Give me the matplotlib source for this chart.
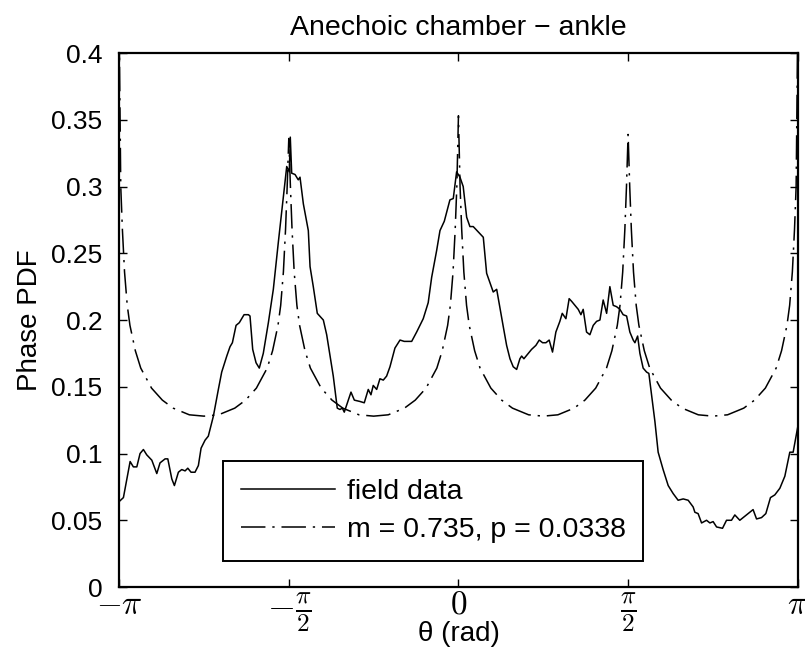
import numpy as np
import matplotlib
matplotlib.use("Agg")
import matplotlib.pyplot as plt

# measured field data (theta in rad, pdf value)
field_theta = [-3.1416, -3.102, -3.040, -3.010, -2.978, -2.948, -2.917, -2.886, -2.839, -2.793,
               -2.763, -2.716, -2.691, -2.654, -2.630, -2.593, -2.562, -2.531, -2.506, -2.476,
               -2.439, -2.408, -2.383, -2.346, -2.316, -2.269, -2.223, -2.192, -2.145, -2.115,
               -2.093, -2.059, -2.029, -1.985, -1.945, -1.930, -1.905, -1.874, -1.844, -1.807,
               -1.760, -1.714, -1.668, -1.621, -1.590, -1.566, -1.557, -1.544, -1.513, -1.483,
               -1.467, -1.436, -1.390, -1.374, -1.344, -1.307, -1.251, -1.220, -1.189, -1.159,
               -1.122, -1.097, -1.075, -1.057, -0.995, -0.964, -0.912, -0.872, -0.835, -0.810,
               -0.789, -0.757, -0.727, -0.696, -0.665, -0.634, -0.588, -0.541, -0.502, -0.433,
               -0.387, -0.326, -0.280, -0.248, -0.202, -0.171, -0.131, -0.079, -0.048, -0.017,
               0.014, 0.044, 0.076, 0.106, 0.137, 0.183, 0.230, 0.261, 0.292, 0.322,
               0.354, 0.384, 0.415, 0.446, 0.477, 0.507, 0.539, 0.569, 0.585, 0.606,
               0.646, 0.677, 0.717, 0.748, 0.779, 0.810, 0.840, 0.871, 0.902, 0.939,
               0.961, 0.995, 1.025, 1.048, 1.078, 1.109, 1.134, 1.155, 1.186, 1.217,
               1.248, 1.279, 1.310, 1.340, 1.372, 1.402, 1.433, 1.464, 1.495, 1.525,
               1.557, 1.587, 1.618, 1.634, 1.659, 1.680, 1.710, 1.742, 1.763, 1.788,
               1.819, 1.849, 1.895, 1.942, 1.988, 2.034, 2.081, 2.127, 2.173, 2.189,
               2.219, 2.251, 2.297, 2.328, 2.358, 2.390, 2.445, 2.482, 2.528, 2.559,
               2.605, 2.667, 2.728, 2.760, 2.806, 2.846, 2.889, 2.929, 2.976, 3.022,
               3.068, 3.099, 3.130, 3.1416]
field_pdf = [0.064, 0.067, 0.094, 0.090, 0.090, 0.100, 0.103, 0.099, 0.095, 0.085,
             0.093, 0.096, 0.096, 0.081, 0.076, 0.086, 0.088, 0.087, 0.089, 0.086,
             0.086, 0.091, 0.104, 0.110, 0.113, 0.128, 0.148, 0.161, 0.173, 0.180,
             0.183, 0.196, 0.198, 0.204, 0.204, 0.203, 0.178, 0.168, 0.164, 0.175,
             0.198, 0.223, 0.258, 0.292, 0.315, 0.311, 0.337, 0.310, 0.309, 0.305,
             0.307, 0.287, 0.267, 0.240, 0.225, 0.205, 0.200, 0.189, 0.173, 0.158,
             0.134, 0.133, 0.134, 0.131, 0.146, 0.140, 0.139, 0.138, 0.148, 0.144,
             0.151, 0.148, 0.156, 0.155, 0.158, 0.165, 0.179, 0.185, 0.184, 0.184,
             0.191, 0.201, 0.213, 0.232, 0.252, 0.267, 0.274, 0.290, 0.291, 0.311,
             0.307, 0.300, 0.277, 0.270, 0.270, 0.266, 0.262, 0.235, 0.228, 0.221,
             0.223, 0.209, 0.195, 0.181, 0.171, 0.165, 0.163, 0.171, 0.173, 0.171,
             0.175, 0.178, 0.181, 0.185, 0.183, 0.183, 0.185, 0.176, 0.191, 0.199,
             0.205, 0.201, 0.216, 0.214, 0.211, 0.208, 0.204, 0.208, 0.191, 0.189,
             0.196, 0.199, 0.200, 0.215, 0.205, 0.225, 0.211, 0.210, 0.208, 0.204,
             0.203, 0.191, 0.185, 0.183, 0.188, 0.175, 0.164, 0.161, 0.160, 0.144,
             0.124, 0.101, 0.088, 0.076, 0.070, 0.065, 0.066, 0.065, 0.060, 0.056,
             0.055, 0.048, 0.050, 0.048, 0.049, 0.045, 0.044, 0.050, 0.050, 0.054,
             0.050, 0.054, 0.058, 0.051, 0.052, 0.055, 0.067, 0.069, 0.074, 0.083,
             0.101, 0.101, 0.115, 0.120]

# fitted model curve (m = 0.735, p = 0.0338)
model_theta = [-3.1416, -3.1266, -3.1116, -3.0916, -3.0666, -3.0416, -2.9916, -2.9416, -2.8416,
               -2.7416, -2.6416, -2.4916, -2.3562, -2.2208, -2.0708, -1.9708, -1.8708, -1.7708,
               -1.7208, -1.6708, -1.6458, -1.6208, -1.6008, -1.5858, -1.5708,
               -1.5558, -1.5408, -1.5208, -1.4958, -1.4708, -1.4208, -1.3708, -1.2708, -1.1708,
               -1.0708, -0.9208, -0.7854, -0.6500, -0.5000, -0.4000, -0.3000, -0.2000, -0.1500,
               -0.1000, -0.0750, -0.0500, -0.0300, -0.0150, 0.0,
               0.0150, 0.0300, 0.0500, 0.0750, 0.1000, 0.1500, 0.2000, 0.3000, 0.4000, 0.5000,
               0.6500, 0.7854, 0.9208, 1.0708, 1.1708, 1.2708, 1.3708, 1.4208, 1.4708, 1.4958,
               1.5208, 1.5408, 1.5558, 1.5708,
               1.5858, 1.6008, 1.6208, 1.6458, 1.6708, 1.7208, 1.7708, 1.8708, 1.9708, 2.0708,
               2.2208, 2.3562, 2.4916, 2.6416, 2.7416, 2.8416, 2.9416, 2.9916, 3.0416, 3.0666,
               3.0916, 3.1116, 3.1266, 3.1416]
model_pdf = [0.420, 0.300, 0.268, 0.236, 0.211, 0.196, 0.177, 0.164, 0.149,
             0.140, 0.134, 0.129, 0.128, 0.129, 0.134, 0.140, 0.149, 0.164,
             0.177, 0.196, 0.211, 0.236, 0.268, 0.300, 0.336,
             0.300, 0.268, 0.236, 0.211, 0.196, 0.177, 0.164, 0.149, 0.140,
             0.134, 0.129, 0.128, 0.129, 0.134, 0.140, 0.149, 0.164, 0.177,
             0.196, 0.211, 0.236, 0.268, 0.300, 0.353,
             0.300, 0.268, 0.236, 0.211, 0.196, 0.177, 0.164, 0.149, 0.140, 0.134,
             0.129, 0.128, 0.129, 0.134, 0.140, 0.149, 0.164, 0.177, 0.196, 0.211,
             0.236, 0.268, 0.300, 0.339,
             0.300, 0.268, 0.236, 0.211, 0.196, 0.177, 0.164, 0.149, 0.140, 0.134,
             0.129, 0.128, 0.129, 0.134, 0.140, 0.149, 0.164, 0.177, 0.196, 0.211,
             0.236, 0.268, 0.300, 0.420]

xtick_vals = [-np.pi, -np.pi / 2, 0, np.pi / 2, np.pi]
xtick_labels = [r'$-\pi$', r'$-\frac{\pi}{2}$', r'$0$', r'$\frac{\pi}{2}$', r'$\pi$']
ytick_vals = [0, 0.05, 0.1, 0.15, 0.2, 0.25, 0.3, 0.35, 0.4]
ytick_labels = ['0', '0.05', '0.1', '0.15', '0.2', '0.25', '0.3', '0.35', '0.4']

plt.rcParams['font.family'] = ['Liberation Sans', 'DejaVu Sans']
plt.rcParams['mathtext.fontset'] = 'cm'

fig = plt.figure(figsize=(8.05, 6.57), dpi=100)
ax = fig.add_axes([0.148, 0.1065, 0.843, 0.8128])

ax.plot(field_theta, field_pdf, color='black', lw=1.1, label='field data')
ax.plot(model_theta, model_pdf, color='black', lw=1.1, dashes=(16, 4.5, 1.5, 4.5),
        label='m = 0.735, p = 0.0338')

ax.set_xlim(-np.pi, np.pi)
ax.set_ylim(0, 0.4)
ax.set_xticks(xtick_vals)
ax.set_xticklabels(xtick_labels, fontsize=24)
for lab in ax.get_xticklabels():
    if 'frac' in lab.get_text():
        lab.set_fontsize(26)
ax.set_yticks(ytick_vals)
ax.set_yticklabels(ytick_labels, fontsize=19)
ax.tick_params(direction='in', length=6, width=1, top=True, right=True)
ax.tick_params(axis='y', pad=12)
ax.tick_params(axis='x', pad=2)
for s in ax.spines.values():
    s.set_linewidth(1.6)

ax.set_title('Anechoic chamber \u2212 ankle', fontsize=20.5, pad=13)
ax.set_xlabel('\u03b8 (rad)', fontsize=20)
ax.xaxis.set_label_coords(0.5, -0.064)
ax.set_ylabel('Phase PDF', fontsize=20, labelpad=6)

leg = ax.legend(loc='lower left', bbox_to_anchor=(0.153, 0.0487), borderaxespad=0,
                fontsize=20.5, handlelength=3.3, handletextpad=0.42, fancybox=False,
                framealpha=1, edgecolor='black', borderpad=0.62, labelspacing=0.45)
leg.get_frame().set_linewidth(1.4)

fig.savefig('out.png', dpi=100)
